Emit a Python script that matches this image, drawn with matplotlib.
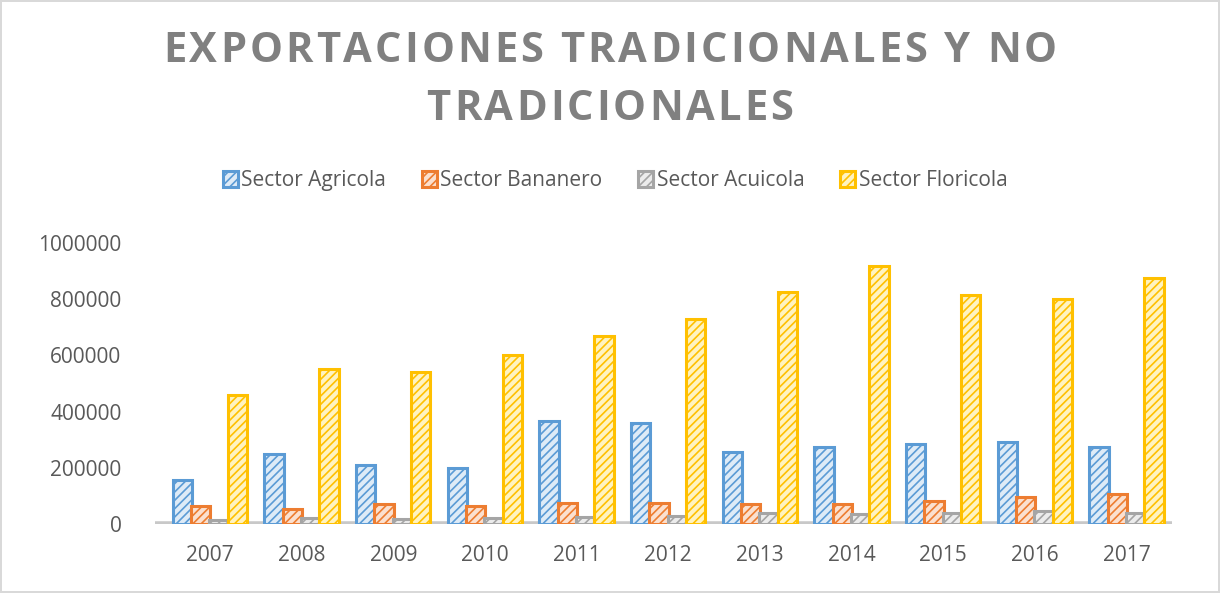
import matplotlib
matplotlib.use('Agg')
import numpy as np
from matplotlib import pyplot as plt
from matplotlib.font_manager import FontProperties

years = ['2007', '2008', '2009', '2010', '2011', '2012', '2013', '2014', '2015', '2016', '2017']
agricola = [155000, 250000, 210000, 200000, 365000, 360000, 255000, 275000, 285000, 290000, 275000]
bananero = [65000, 55000, 70000, 65000, 75000, 75000, 70000, 70000, 80000, 95000, 105000]
acuicola = [15000, 20000, 18000, 20000, 25000, 30000, 40000, 35000, 40000, 45000, 40000]
floricola = [460000, 550000, 540000, 600000, 670000, 730000, 825000, 918000, 815000, 800000, 875000]
series_names = ['Sector Agricola', 'Sector Bananero', 'Sector Acuicola', 'Sector Floricola']
title_lines = ['EXPORTACIONES TRADICIONALES Y NO', 'TRADICIONALES']

plt.rcParams['font.family'] = ['Open Sans', 'DejaVu Sans']
plt.rcParams['hatch.linewidth'] = 1.2

W, H = 1220, 593
fig = plt.figure(figsize=(W / 100, H / 100), dpi=100)
fig.patch.set_edgecolor('#d9d9d9')
fig.patch.set_linewidth(1.5)
ax = fig.add_axes([0.127, 0.1164, 0.834, 0.4739])

x = np.arange(len(years))
w = 0.21
edges = ['#5b9bd5', '#ed7d31', '#a5a5a5', '#ffc000']
fills = ['#deebf7', '#fbe0cf', '#ececec', '#fff3c0']
data = [agricola, bananero, acuicola, floricola]
offs = [-0.3, -0.1, 0.1, 0.3]
bars = []
for vals, ec, fc, off in zip(data, edges, fills, offs):
    b = ax.bar(x + off, vals, w, color=fc, edgecolor=ec, linewidth=2.2, hatch='////', zorder=3)
    bars.append(b)

# floor of the 3d chart
ax.axhline(0, color='#c8c8c8', linewidth=4, zorder=1)

ax.set_xlim(-0.6, 10.5)
ax.set_ylim(0, 1000000)
ax.set_yticks([0, 200000, 400000, 600000, 800000, 1000000])
ax.set_yticklabels(['0', '200000', '400000', '600000', '800000', '1000000'])
ax.set_xticks(x)
ax.set_xticklabels(years)
for s in ax.spines.values():
    s.set_visible(False)
ax.tick_params(axis='both', length=0, labelsize=15, colors='#595959')
ax.tick_params(axis='y', pad=24)
ax.tick_params(axis='x', pad=15)

fig.legend(bars, series_names, loc='center', bbox_to_anchor=(0.504, 0.695), ncol=4,
           frameon=False, fontsize=15, labelcolor='#595959', handlelength=0.75,
           handleheight=0.75, handletextpad=0.15, columnspacing=1.7)

# title with letter spacing (drawn char by char)
fp = FontProperties(family='Open Sans', weight='bold', size=30)
r = fig.canvas.get_renderer()
def adv(ch):
    if ch == ' ':
        return r.get_text_width_height_descent('a a', fp, False)[0] - r.get_text_width_height_descent('aa', fp, False)[0]
    return r.get_text_width_height_descent(ch, fp, False)[0]
natural = sum(adv(c) for c in title_lines[0])
spacing = (894 - natural) / (len(title_lines[0]) - 1)
for line, yc in zip(title_lines, [52, 110]):
    total = sum(adv(c) for c in line) + spacing * (len(line) - 1)
    xp = 610 - total / 2
    for ch in line:
        if ch != ' ':
            fig.text(xp / W, 1 - yc / H, ch, fontproperties=fp, color='#808080', ha='left', va='center')
        xp += adv(ch) + spacing

fig.savefig('out.png', dpi=100)
